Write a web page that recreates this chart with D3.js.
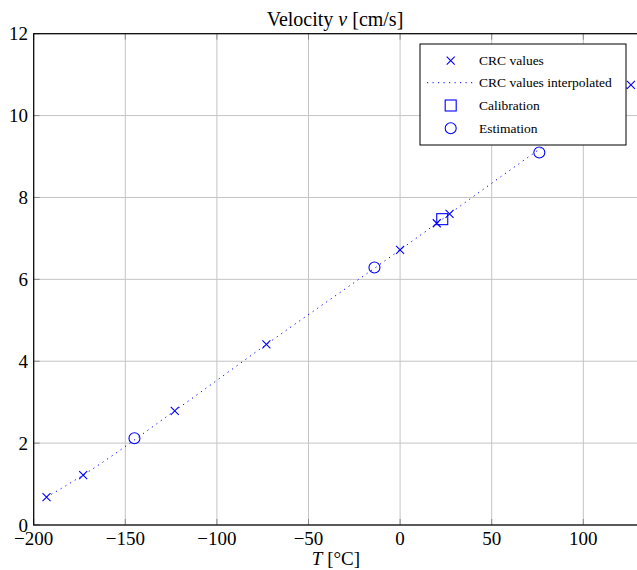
<!DOCTYPE html>
<html>
<head>
<meta charset="utf-8">
<script src="https://cdn.jsdelivr.net/npm/d3@7"></script>
<style>
  body { margin: 0; background: #fff; }
  svg { display: block; }
</style>
</head>
<body>
<svg id="chart" width="637" height="570"></svg>
<script>
'use strict';

// CRC reference values (temperature in °C, velocity in cm/s)
var crcT = [-193, -173, -123, -73, 0, 20, 27, 126];
var crcV = [0.68, 1.22, 2.79, 4.41, 6.72, 7.37, 7.60, 10.75];

// calibration point
var calT = [23];
var calV = [7.47];

// estimated points
var estT = [-145, -14, 76];
var estV = [2.12, 6.29, 9.10];

var xTicks = [-200, -150, -100, -50, 0, 50, 100, 150];
var yTicks = [0, 2, 4, 6, 8, 10, 12];

var legendLabels = ['CRC values', 'CRC values interpolated', 'Calibration', 'Estimation'];

var blue = '#0000ff';
var serif = '"Liberation Serif", "DejaVu Serif", "Times New Roman", serif';
var svg = d3.select('#chart');

// plot box runs off the right edge of the picture, like the reference
var x = d3.scaleLinear().domain([-200, 150]).range([33.7, 33.7 + 350 * 1.832]);
var y = d3.scaleLinear().domain([0, 12]).range([525, 33.7]);

var minus = function (d) { return d < 0 ? '\u2212' + Math.abs(d) : String(d); };

// grid
var grid = svg.append('g');
grid.selectAll('line.gx').data(xTicks).enter().append('line')
  .attr('x1', function (d) { return x(d); }).attr('x2', function (d) { return x(d); })
  .attr('y1', y(0)).attr('y2', y(12))
  .attr('stroke', '#c4c4c4').attr('stroke-width', 1);
grid.selectAll('line.gy').data(yTicks).enter().append('line')
  .attr('x1', x(-200)).attr('x2', x(150))
  .attr('y1', function (d) { return y(d); }).attr('y2', function (d) { return y(d); })
  .attr('stroke', '#c4c4c4').attr('stroke-width', 1);

// inner tick marks (darker than the grid)
var tl = 6;
grid.selectAll('line.tb').data(xTicks).enter().append('line')
  .attr('x1', function (d) { return x(d); }).attr('x2', function (d) { return x(d); })
  .attr('y1', y(0)).attr('y2', y(0) - tl)
  .attr('stroke', '#8a8a8a').attr('stroke-width', 1);
grid.selectAll('line.tt').data(xTicks).enter().append('line')
  .attr('x1', function (d) { return x(d); }).attr('x2', function (d) { return x(d); })
  .attr('y1', y(12)).attr('y2', y(12) + tl)
  .attr('stroke', '#8a8a8a').attr('stroke-width', 1);
grid.selectAll('line.tl').data(yTicks).enter().append('line')
  .attr('x1', x(-200)).attr('x2', x(-200) + tl)
  .attr('y1', function (d) { return y(d); }).attr('y2', function (d) { return y(d); })
  .attr('stroke', '#8a8a8a').attr('stroke-width', 1);

// axis box
svg.append('rect')
  .attr('x', x(-200)).attr('y', y(12))
  .attr('width', x(150) - x(-200)).attr('height', y(0) - y(12))
  .attr('fill', 'none').attr('stroke', '#000').attr('stroke-width', 1.2);

// tick labels (the 150 label lies past the picture's edge)
svg.append('g').selectAll('text').data(xTicks.filter(function (d) { return x(d) < 620; })).enter().append('text')
  .attr('x', function (d) { return x(d); }).attr('y', 545)
  .attr('text-anchor', 'middle').attr('font-size', '19px').attr('font-family', serif)
  .text(minus);
svg.append('g').selectAll('text').data(yTicks).enter().append('text')
  .attr('x', 28).attr('y', function (d) { return y(d) + 6.5; })
  .attr('text-anchor', 'end').attr('font-size', '19px').attr('font-family', serif)
  .text(function (d) { return d; });

// title and axis label
var title = svg.append('text').attr('x', 335).attr('y', 26)
  .attr('text-anchor', 'middle').attr('font-size', '20px').attr('font-family', serif);
title.append('tspan').text('Velocity ');
title.append('tspan').attr('font-style', 'italic').text('v');
title.append('tspan').text(' [cm/s]');

var xlab = svg.append('text').attr('x', 336).attr('y', 565)
  .attr('text-anchor', 'middle').attr('font-size', '19px').attr('font-family', serif);
xlab.append('tspan').attr('font-style', 'italic').text('T');
xlab.append('tspan').text(' [\u00b0C]');

// interpolated CRC curve
var crc = crcT.map(function (t, i) { return [t, crcV[i]]; });
var curve = d3.line()
  .x(function (d) { return x(d[0]); })
  .y(function (d) { return y(d[1]); })
  .curve(d3.curveMonotoneX);
svg.append('path')
  .datum(crc)
  .attr('d', curve)
  .attr('fill', 'none').attr('stroke', blue).attr('stroke-width', 1)
  .attr('stroke-dasharray', '1.2,4.3');

function cross(g, cx, cy, r) {
  g.append('path')
    .attr('d', 'M' + (cx - r) + ',' + (cy - r) + 'L' + (cx + r) + ',' + (cy + r) +
               'M' + (cx - r) + ',' + (cy + r) + 'L' + (cx + r) + ',' + (cy - r))
    .attr('stroke', blue).attr('stroke-width', 1.1).attr('fill', 'none');
}

var marks = svg.append('g');
crc.forEach(function (d) { cross(marks, x(d[0]), y(d[1]), 4); });
calT.forEach(function (t, i) {
  marks.append('rect')
    .attr('x', x(t) - 5.5).attr('y', y(calV[i]) - 5.5)
    .attr('width', 11).attr('height', 11)
    .attr('fill', 'none').attr('stroke', blue).attr('stroke-width', 1.1);
});
estT.forEach(function (t, i) {
  marks.append('circle')
    .attr('cx', x(t)).attr('cy', y(estV[i])).attr('r', 5.5)
    .attr('fill', 'none').attr('stroke', blue).attr('stroke-width', 1.1);
});

// legend
var lg = svg.append('g');
lg.append('rect').attr('x', 420).attr('y', 44).attr('width', 206).attr('height', 101)
  .attr('fill', '#fff').attr('stroke', '#000').attr('stroke-width', 1);
var rowY = [60.7, 82.7, 105.5, 128.3];
legendLabels.forEach(function (lab, i) {
  lg.append('text').attr('x', 479).attr('y', rowY[i] + 4.5)
    .attr('font-size', '13.5px').attr('font-family', serif).text(lab);
});
cross(lg, 450.7, rowY[0], 4);
lg.append('line').attr('x1', 427).attr('x2', 474).attr('y1', rowY[1]).attr('y2', rowY[1])
  .attr('stroke', blue).attr('stroke-width', 1).attr('stroke-dasharray', '1.2,4.3');
lg.append('rect').attr('x', 450.7 - 5.5).attr('y', rowY[2] - 5.5).attr('width', 11).attr('height', 11)
  .attr('fill', 'none').attr('stroke', blue).attr('stroke-width', 1.1);
lg.append('circle').attr('cx', 450.7).attr('cy', rowY[3]).attr('r', 5.5)
  .attr('fill', 'none').attr('stroke', blue).attr('stroke-width', 1.1);
</script>
</body>
</html>
